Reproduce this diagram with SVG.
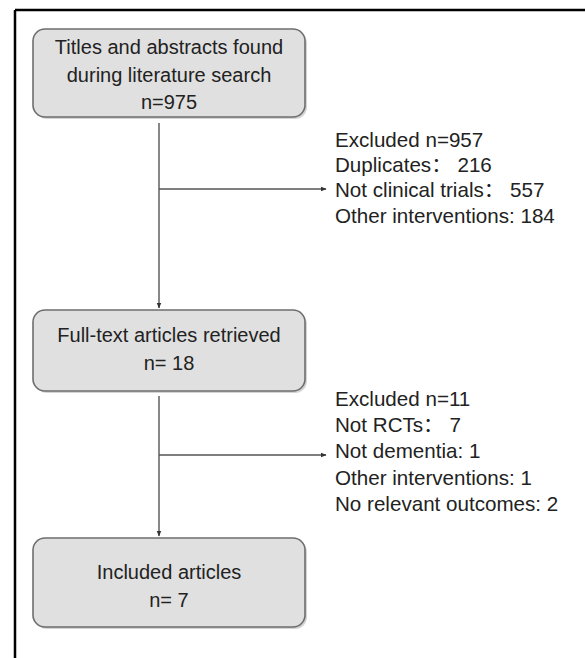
<svg xmlns="http://www.w3.org/2000/svg" width="585" height="658" viewBox="0 0 585 658">
<style>
.box{fill:#e0e0e0;stroke:#6e6e6e;stroke-width:1.6}
.shadow{fill:#b8b8b8;opacity:0.6}
.t{font-family:"Liberation Sans",Arial,"Noto Sans CJK SC",sans-serif;font-size:20px;fill:#222}
.e{font-size:20.6px}
.c{text-anchor:middle}
.ln{stroke:#555;stroke-width:1.4;fill:none}
</style>
<defs>
<marker id="ah" viewBox="0 0 10 10" refX="9" refY="5" markerWidth="6" markerHeight="6" orient="auto" markerUnits="userSpaceOnUse">
<path d="M0,1 L10,5 L0,9 Z" fill="#333"/>
</marker>
</defs>
<rect width="585" height="658" fill="#fff"/>
<g id="frame">
<line x1="15" y1="10" x2="585" y2="10" stroke="#000" stroke-width="2.5"/>
<line x1="15" y1="10" x2="15" y2="658" stroke="#000" stroke-width="2.5"/>
</g>
<g id="connectors">
<line class="ln" x1="159" y1="123" x2="159" y2="308" marker-end="url(#ah)"/>
<line class="ln" x1="159" y1="189" x2="326" y2="189" marker-end="url(#ah)"/>
<line class="ln" x1="159" y1="396" x2="159" y2="536" marker-end="url(#ah)"/>
<line class="ln" x1="159" y1="455" x2="326" y2="455" marker-end="url(#ah)"/>
</g>
<g id="n1">
<rect class="shadow" x="35" y="31" width="272" height="88" rx="12"/>
<rect class="box" x="33" y="29" width="272" height="88" rx="12"/>
<text class="t c" x="169" y="54">Titles and abstracts found</text>
<text class="t c" x="169" y="82">during literature search</text>
<text class="t c" x="169" y="109">n=975</text>
</g>
<g id="n2">
<rect class="shadow" x="35" y="312" width="272" height="81" rx="12"/>
<rect class="box" x="33" y="310" width="272" height="81" rx="12"/>
<text class="t c" x="169" y="342">Full-text articles retrieved</text>
<text class="t c" x="169" y="370">n= 18</text>
</g>
<g id="n3">
<rect class="shadow" x="35" y="540" width="272" height="89" rx="12"/>
<rect class="box" x="33" y="538" width="272" height="89" rx="12"/>
<text class="t c" x="169" y="579">Included articles</text>
<text class="t c" x="169" y="607">n= 7</text>
</g>
<g id="excl1">
<text class="t e" x="335" y="147">Excluded n=957</text>
<text class="t e" x="335" y="172">Duplicates： 216</text>
<text class="t e" x="335" y="197">Not clinical trials： 557</text>
<text class="t e" x="335" y="223">Other interventions: 184</text>
</g>
<g id="excl2">
<text class="t e" x="335" y="406">Excluded n=11</text>
<text class="t e" x="335" y="432">Not RCTs： 7</text>
<text class="t e" x="335" y="458">Not dementia: 1</text>
<text class="t e" x="335" y="485">Other interventions: 1</text>
<text class="t e" x="335" y="511">No relevant outcomes: 2</text>
</g>
</svg>
